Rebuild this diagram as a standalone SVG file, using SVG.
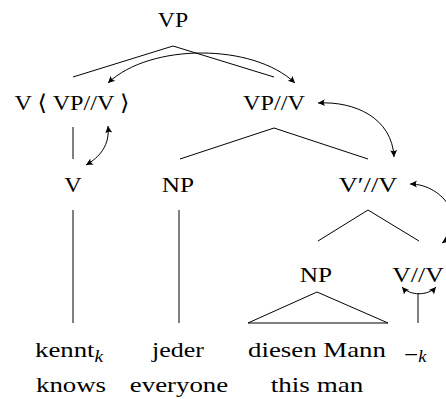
<svg xmlns="http://www.w3.org/2000/svg" width="446" height="399" viewBox="0 0 446 399">
<defs>
<style>
.br{fill:none;stroke:#000;stroke-width:1}
.ar{fill:none;stroke:#000;stroke-width:1;marker-start:url(#ah);marker-end:url(#ah)}
</style>
<marker id="ah" viewBox="-8 -4 9 8" markerWidth="9" markerHeight="8" refX="0" refY="0" orient="auto-start-reverse" markerUnits="userSpaceOnUse">
<path d="M0,0 L-7,-3.5 Q-4.5,0 -7,3.5 Z" fill="#000"/>
</marker>
</defs>
<rect width="446" height="399" fill="#fff"/>
<g id="branches">
<polyline class="br" points="73,77 173,46 274,77"/>
<line class="br" x1="73" y1="127" x2="73" y2="159"/>
<polyline class="br" points="180,159 274,128 368,159"/>
<polyline class="br" points="318,241 368,210 419,241"/>
<line class="br" x1="73" y1="210" x2="73" y2="323"/>
<line class="br" x1="179" y1="210" x2="179" y2="323"/>
<polygon class="br" points="317,292 248,323 388,323"/>
<line class="br" x1="418" y1="293" x2="418" y2="323"/>
</g>
<g id="connectors">
<path class="ar" d="M108,83 C150,43 253,43 295,83"/>
<path class="ar" d="M318,103 C355,101 392,118 394,157"/>
<path class="ar" d="M410,184 C445,184 470,225 442,243"/>
<path class="ar" d="M402,287 C410,296 428,296 436,287"/>
<path class="ar" d="M108,126 C110,145 100,157 86,165"/>
</g>
<g font-family="Liberation Serif, DejaVu Serif, serif" font-size="22" text-anchor="middle" fill="#000">
<g id="n-vp"><text transform="translate(173,27) scale(1.08,1)">VP</text></g>
<g id="n-v-vpv"><text transform="translate(72,110) scale(1.1,1)">V ⟨ VP//V ⟩</text></g>
<g id="n-vpv"><text transform="translate(274,110) scale(1.1,1)">VP//V</text></g>
<g id="n-v"><text transform="translate(73,192) scale(1.1,1)">V</text></g>
<g id="n-np1"><text transform="translate(178,192) scale(1.15,1)">NP</text></g>
<g id="n-vbarv"><text transform="translate(368,192) scale(1.2,1)">V′//V</text></g>
<g id="n-np2"><text transform="translate(316,282) scale(1.15,1)">NP</text></g>
<g id="n-vv"><text transform="translate(418,282) scale(1.17,1)">V//V</text></g>
<g id="n-kennt"><text transform="translate(35,357) scale(1.22,1)" text-anchor="start">kennt<tspan font-style="italic" font-size="16" dy="5">k</tspan></text><text transform="translate(71,392) scale(1.22,1)">knows</text></g>
<g id="n-jeder"><text transform="translate(178,357) scale(1.18,1)">jeder</text><text transform="translate(179,392) scale(1.22,1)">everyone</text></g>
<g id="n-diesen"><text transform="translate(317,357) scale(1.22,1)">diesen Mann</text><text transform="translate(317,392) scale(1.23,1)">this man</text></g>
<g id="n-trace"><text transform="translate(404,362) scale(1.15,1)" text-anchor="start">−<tspan font-style="italic" font-size="16">k</tspan></text></g>
</g>
</svg>
